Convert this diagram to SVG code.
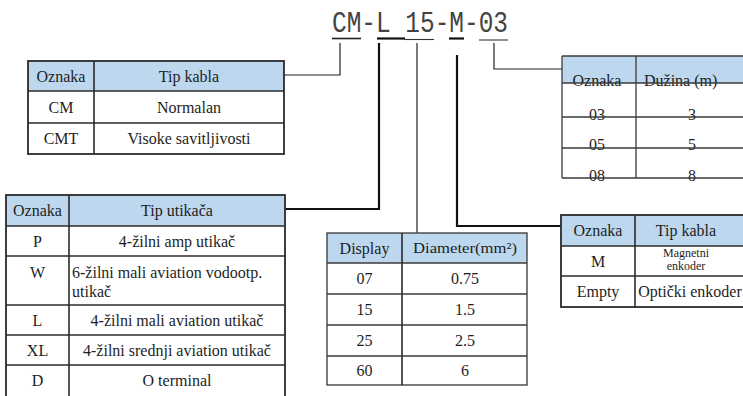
<svg xmlns="http://www.w3.org/2000/svg" width="743" height="396" viewBox="0 0 743 396">
<style>
.bg{fill:#ffffff}
.hd{fill:#BDD7EE}
.bd{fill:none;stroke:#2b2b2b;stroke-width:1.8}
.ln{stroke:#2b2b2b;stroke-width:1.6;fill:none}
.lt{stroke:#3a3a3a;stroke-width:1.3;fill:none}
.t{font-family:"Liberation Serif","Times New Roman",serif;font-size:16px;fill:#1e1e1e;text-anchor:middle}
.s{font-size:12px}
.l{text-anchor:start}
.c1{stroke:#222;stroke-width:1.2;fill:none}
.c2{stroke:#111;stroke-width:2.2;fill:none}
.title{font-family:"Liberation Mono","Courier New",monospace;font-size:29px;fill:#444}
</style>
<rect class="bg" x="0" y="0" width="743" height="396"/>

<g id="title">
<text class="title" x="332" y="32" textLength="176" lengthAdjust="spacingAndGlyphs">CM-L 15-M-03</text>
<line x1="332" y1="38.5" x2="361" y2="38.5" stroke="#222" stroke-width="1.6"/>
<line x1="377" y1="38.5" x2="405" y2="38.5" stroke="#111" stroke-width="2.2"/>
<line x1="404" y1="39.5" x2="434" y2="39.5" stroke="#333" stroke-width="1.1"/>
<line x1="449" y1="38.5" x2="464" y2="38.5" stroke="#111" stroke-width="2.2"/>
<line x1="479" y1="40" x2="508" y2="40" stroke="#333" stroke-width="1.1"/>
</g>

<g id="connectors">
<polyline class="c1" points="284,75 340,75 340,43"/>
<polyline class="c2" points="285,209 379,209 379,43"/>
<polyline class="c1" points="417,43 417,233"/>
<polyline class="c2" points="457,55 457,226 561,226"/>
<polyline class="c1" points="494,43 494,69 562,69"/>
</g>

<g id="table-cable-type">
<rect class="hd" x="28" y="61" width="256" height="30"/>
<rect class="bd" x="28" y="61" width="256" height="93"/>
<line class="ln" x1="28" y1="91" x2="284" y2="91"/>
<line class="ln" x1="28" y1="123" x2="284" y2="123"/>
<line class="ln" x1="94" y1="61" x2="94" y2="154"/>
<text class="t" x="61" y="81.5">Oznaka</text>
<text class="t" x="189" y="81.5">Tip kabla</text>
<text class="t" x="61" y="112.5">CM</text>
<text class="t" x="189" y="112.5">Normalan</text>
<text class="t" x="61" y="144">CMT</text>
<text class="t" x="189" y="144">Visoke savitljivosti</text>
</g>

<g id="table-connector-type">
<rect class="hd" x="6" y="195" width="279" height="31"/>
<rect class="bd" x="6" y="195" width="279" height="205"/>
<line class="ln" x1="6" y1="226" x2="285" y2="226"/>
<line class="ln" x1="6" y1="256" x2="285" y2="256"/>
<line class="ln" x1="6" y1="305" x2="285" y2="305"/>
<line class="ln" x1="6" y1="335" x2="285" y2="335"/>
<line class="ln" x1="6" y1="365" x2="285" y2="365"/>
<line class="ln" x1="69" y1="195" x2="69" y2="400"/>
<text class="t" x="37.5" y="216">Oznaka</text>
<text class="t" x="177" y="216">Tip utikača</text>
<text class="t" x="37.5" y="246.5">P</text>
<text class="t" x="177" y="246.5">4-žilni amp utikač</text>
<text class="t" x="37.5" y="278">W</text>
<text class="t l" x="72" y="278">6-žilni mali aviation vodootp.</text>
<text class="t l" x="72" y="297">utikač</text>
<text class="t" x="37.5" y="325.5">L</text>
<text class="t" x="177" y="325.5">4-žilni mali aviation utikač</text>
<text class="t" x="37.5" y="355.5">XL</text>
<text class="t" x="177" y="355.5">4-žilni srednji aviation utikač</text>
<text class="t" x="37.5" y="386">D</text>
<text class="t" x="177" y="386">O terminal</text>
</g>

<g id="table-diameter">
<rect class="hd" x="327" y="233" width="200" height="30"/>
<rect class="bd" x="327" y="233" width="200" height="152" style="stroke:#444;stroke-width:1.4"/>
<line class="lt" x1="327" y1="263" x2="527" y2="263"/>
<line class="lt" x1="327" y1="294" x2="527" y2="294"/>
<line class="lt" x1="327" y1="325" x2="527" y2="325"/>
<line class="lt" x1="327" y1="356" x2="527" y2="356"/>
<line class="ln" x1="402" y1="233" x2="402" y2="385"/>
<text class="t" x="364.5" y="253.5">Display</text>
<text class="t" x="465" y="253" style="font-size:14.5px" textLength="104" lengthAdjust="spacingAndGlyphs">Diameter(mm²)</text>
<text class="t" x="364.5" y="284">07</text>
<text class="t" x="465" y="284">0.75</text>
<text class="t" x="364.5" y="315">15</text>
<text class="t" x="465" y="315">1.5</text>
<text class="t" x="364.5" y="346">25</text>
<text class="t" x="465" y="346">2.5</text>
<text class="t" x="364.5" y="376">60</text>
<text class="t" x="465" y="376">6</text>
</g>

<g id="table-encoder">
<rect class="hd" x="561" y="215" width="186" height="31"/>
<rect class="bd" x="561" y="215" width="186" height="92"/>
<line class="ln" x1="561" y1="246" x2="747" y2="246"/>
<line class="ln" x1="561" y1="276" x2="747" y2="276"/>
<line class="ln" x1="635" y1="215" x2="635" y2="307"/>
<text class="t" x="598" y="236">Oznaka</text>
<text class="t" x="686" y="236">Tip kabla</text>
<text class="t" x="598" y="267">M</text>
<text class="t s" x="686" y="257">Magnetni</text>
<text class="t s" x="686" y="270">enkoder</text>
<text class="t" x="598" y="297">Empty</text>
<text class="t" x="690" y="297">Optički enkoder</text>
</g>

<g id="table-length">
<rect class="hd" x="562" y="56" width="186" height="27"/>
<line class="lt" x1="562" y1="56" x2="748" y2="56"/>
<line class="lt" x1="562" y1="56" x2="562" y2="178"/>
<line class="lt" x1="636" y1="56" x2="636" y2="178"/>
<text class="t" x="597" y="86">Oznaka</text>
<text class="t l" x="644" y="86">Dužina (m)</text>
<text class="t" x="597" y="119.5">03</text>
<text class="t" x="692" y="119.5">3</text>
<text class="t" x="597" y="150">05</text>
<text class="t" x="692" y="150">5</text>
<text class="t" x="597" y="180.5">08</text>
<text class="t" x="692" y="180.5">8</text>
<line class="lt" x1="562" y1="83" x2="748" y2="83"/>
<line class="lt" x1="562" y1="117" x2="748" y2="117"/>
<line class="lt" x1="562" y1="148" x2="748" y2="148"/>
<line class="lt" x1="562" y1="178" x2="748" y2="178"/>
</g>
</svg>
